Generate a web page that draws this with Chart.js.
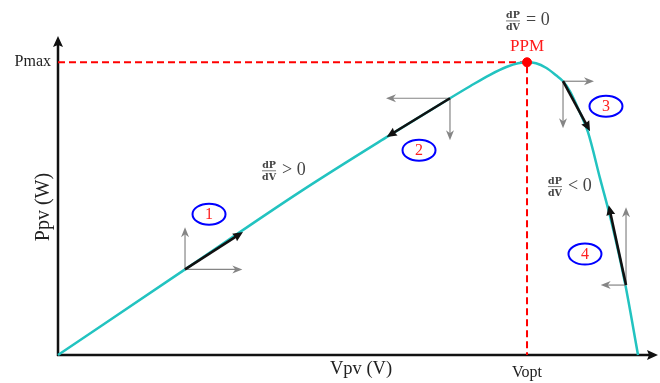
<!DOCTYPE html>
<html>
<head>
<meta charset="utf-8">
<script src="https://cdn.jsdelivr.net/npm/chart.js@4.4.1/dist/chart.umd.min.js"></script>
<style>
html,body{margin:0;padding:0;background:#fff;}
#wrap{width:660px;height:383px;}
</style>
</head>
<body>
<div id="wrap"><canvas id="c" width="660" height="383"></canvas></div>
<script>
// ---- data (voltage in arbitrary units, power in % of Pmax) ----
const voltage = [0, 21.17, 40.33, 54.83, 65.33, 68.67, 72.0, 74.83, 76.67, 78.17, 79.67, 81.33, 83.0, 84.17, 85.33, 86.67, 88.33, 90.33, 92.33, 94.5, 96.67];
const power   = [0, 29.25, 55.73, 74.5, 87.71, 91.81, 95.73, 98.46, 99.66, 100, 99.66, 98.12, 95.56, 93.52, 90.1, 84.3, 76.11, 60.41, 44.71, 24.57, 0];
const vopt = 78.17;
const pmax = 100;
const xTickValues = [vopt];
const xTickLabels = ['Vopt'];
const yTickValues = [pmax];
const yTickLabels = ['Pmax'];
const xAxisTitle = 'Vpv (V)';
const yAxisTitle = 'Ppv (W)';
const ppmLabel = 'PPM';
// operating-point perturbation examples: start (on curve), tangent end, axis-arrow ends, marker position
const stepIds     = ['1', '2', '3', '4'];
const stepStartV  = [21.17, 65.33, 84.17, 94.67];
const stepStartP  = [29.25, 87.71, 93.52, 23.89];
const stepEndV    = [30.83, 54.78, 88.67, 91.78];
const stepEndP    = [42.0, 74.5, 76.45, 51.19];
const stepAxisV   = [30.72, 54.67, 89.33, 90.45];
const stepAxisP   = [43.6, 73.38, 77.47, 50.51];
const stepMarkV   = [25.17, 60.17, 91.33, 87.83];
const stepMarkP   = [48.1, 69.97, 84.98, 34.47];
// slope notes
const noteSigns = ['> 0', '= 0', '< 0'];
const noteV     = [35.17, 75.83, 82.83];
const noteP     = [63.1, 114.3, 57.7];

const curve = voltage.map((v, i) => ({x: v, y: power[i]}));
const guide = [{x: 0, y: pmax}, {x: vopt, y: pmax}, {x: vopt, y: 0}];

function arrowHead(ctx, x1, y1, x2, y2, len, wid, color, notch) {
  const a = Math.atan2(y2 - y1, x2 - x1);
  ctx.save();
  ctx.translate(x2, y2);
  ctx.rotate(a);
  ctx.fillStyle = color;
  ctx.beginPath();
  ctx.moveTo(0, 0);
  ctx.lineTo(-len, -wid);
  ctx.lineTo(-len + notch, 0);
  ctx.lineTo(-len, wid);
  ctx.closePath();
  ctx.fill();
  ctx.restore();
}
function arrow(ctx, x1, y1, x2, y2, color, lw, len, wid, notch) {
  const a = Math.atan2(y2 - y1, x2 - x1);
  ctx.save();
  ctx.strokeStyle = color;
  ctx.lineWidth = lw;
  ctx.beginPath();
  ctx.moveTo(x1, y1);
  ctx.lineTo(x2 - Math.cos(a) * (len - notch - 1), y2 - Math.sin(a) * (len - notch - 1));
  ctx.stroke();
  ctx.restore();
  arrowHead(ctx, x1, y1, x2, y2, len, wid, color, notch);
}

const serif = '"Liberation Serif", "Times New Roman", serif';

const decor = {
  id: 'decor',
  beforeDatasetsDraw(chart) {
    const ctx = chart.ctx;
    const xs = chart.scales.x, ys = chart.scales.y;
    const x0 = xs.getPixelForValue(0), y0 = ys.getPixelForValue(0);
    ctx.save();
    // axes with arrows
    arrow(ctx, x0, y0 + 1, x0, ys.top + 3, '#111', 2.5, 11, 5, 2);
    arrow(ctx, x0 - 1, y0, xs.right, y0, '#111', 2.5, 11, 5, 2);
    // tick labels
    ctx.fillStyle = '#222';
    ctx.font = '16px ' + serif;
    ctx.textAlign = 'right';
    ctx.textBaseline = 'middle';
    yTickValues.forEach((v, i) => ctx.fillText(yTickLabels[i], x0 - 7, ys.getPixelForValue(v)));
    ctx.textAlign = 'center';
    xTickValues.forEach((v, i) => ctx.fillText(xTickLabels[i], xs.getPixelForValue(v), y0 + 18));
    // axis titles
    ctx.font = '18.5px ' + serif;
    ctx.fillText(xAxisTitle, 361, y0 + 14);
    ctx.save();
    ctx.font = '20px ' + serif;
    ctx.textBaseline = 'alphabetic';
    ctx.translate(49, 207);
    ctx.rotate(-Math.PI / 2);
    ctx.fillText(yAxisTitle, 0, 0);
    ctx.restore();
    ctx.restore();
  },
  afterDatasetsDraw(chart) {
    const ctx = chart.ctx;
    const xs = chart.scales.x, ys = chart.scales.y;
    const X = v => xs.getPixelForValue(v), Y = v => ys.getPixelForValue(v);
    ctx.save();
    stepIds.forEach((id, i) => {
      const sx = X(stepStartV[i]), sy = Y(stepStartP[i]);
      // gray component arrows
      arrow(ctx, sx, sy, X(stepAxisV[i]), sy, '#858585', 1.2, 10, 4, 3);
      arrow(ctx, sx, sy, sx, Y(stepAxisP[i]), '#858585', 1.2, 10, 4, 3);
      // black tangent arrow
      arrow(ctx, sx, sy, X(stepEndV[i]), Y(stepEndP[i]), '#111', 2.6, 10, 4.5, 1);
      // marker
      const mx = X(stepMarkV[i]), my = Y(stepMarkP[i]);
      ctx.strokeStyle = '#0000ff';
      ctx.lineWidth = 2;
      ctx.beginPath();
      ctx.ellipse(mx, my, 16.5, 10.5, 0, 0, Math.PI * 2);
      ctx.stroke();
      ctx.fillStyle = '#ff2020';
      ctx.font = '16px ' + serif;
      ctx.textAlign = 'center';
      ctx.textBaseline = 'middle';
      ctx.fillText(id, mx, my + 1);
    });
    // slope notes
    noteSigns.forEach((s, i) => {
      const cx = X(noteV[i]), cy = Y(noteP[i]);
      ctx.fillStyle = '#444';
      ctx.font = 'bold 9.5px "DejaVu Serif", serif';
      ctx.textAlign = 'center';
      ctx.textBaseline = 'alphabetic';
      ctx.fillText('dP', cx, cy - 2);
      ctx.fillText('dV', cx, cy + 10);
      ctx.strokeStyle = '#555';
      ctx.lineWidth = 0.8;
      ctx.beginPath();
      ctx.moveTo(cx - 7, cy + 0.5);
      ctx.lineTo(cx + 7, cy + 0.5);
      ctx.stroke();
      ctx.font = '18px ' + serif;
      ctx.textAlign = 'left';
      ctx.textBaseline = 'middle';
      ctx.fillText(s, cx + 13, cy);
    });
    // PPM label
    ctx.fillStyle = '#ff1a1a';
    ctx.font = '17px ' + serif;
    ctx.textAlign = 'center';
    ctx.textBaseline = 'middle';
    ctx.fillText(ppmLabel, X(vopt), Y(pmax) - 16);
    ctx.restore();
  }
};

new Chart(document.getElementById('c'), {
  type: 'line',
  data: {
    datasets: [
      {
        data: [{x: vopt, y: pmax}],
        showLine: false,
        pointRadius: 4.5,
        pointBackgroundColor: '#ff0000',
        pointBorderColor: '#ff0000',
        order: 0
      },
      {
        data: curve,
        borderColor: '#22c3c0',
        borderWidth: 2.5,
        pointRadius: 0,
        cubicInterpolationMode: 'monotone',
        fill: false,
        order: 1
      },
      {
        data: guide,
        borderColor: '#ff0000',
        borderWidth: 2,
        borderDash: [7, 4],
        pointRadius: 0,
        tension: 0,
        fill: false,
        order: 2
      }
    ]
  },
  options: {
    responsive: false,
    animation: false,
    events: [],
    layout: {autoPadding: false, padding: {left: 58, right: 2, top: 33, bottom: 28}},
    plugins: {legend: {display: false}, tooltip: {enabled: false}},
    scales: {
      x: {type: 'linear', min: 0, max: 100, display: false},
      y: {type: 'linear', min: 0, max: 110, display: false}
    },
    clip: false
  },
  plugins: [decor]
});
</script>
</body>
</html>
